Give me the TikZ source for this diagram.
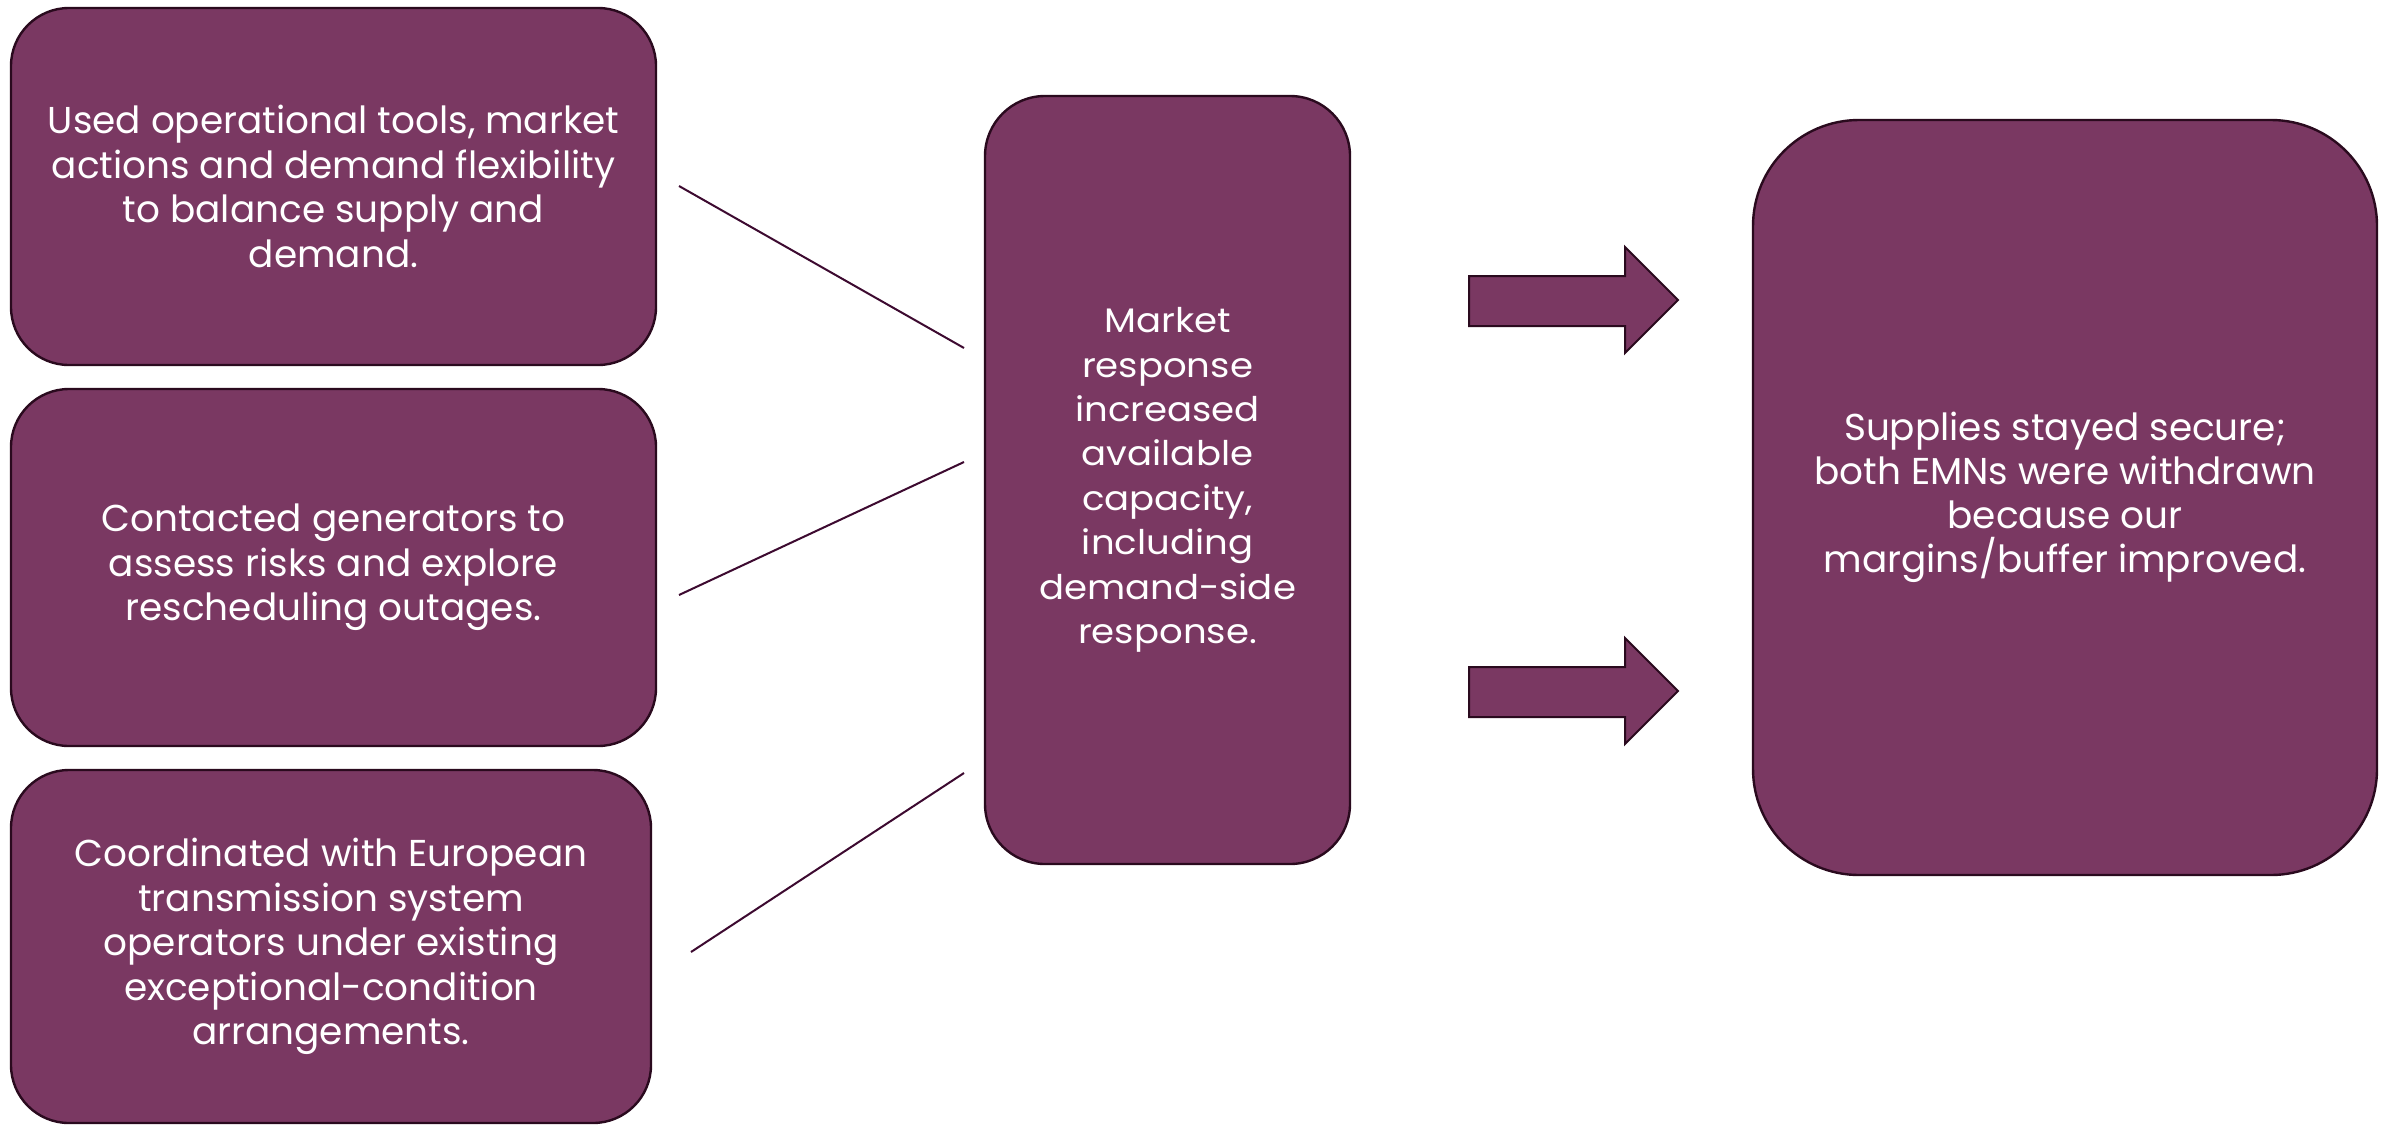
\documentclass[tikz,border=0pt]{standalone}
\usepackage{fontspec}
\setmainfont{Poppins}
\newfontfamily\widefont[FakeStretch=1.09]{Poppins}
\definecolor{boxfill}{HTML}{7A3862}
\definecolor{boxline}{HTML}{2A0A1E}
\definecolor{connline}{HTML}{3D0A30}
\begin{document}
\begin{tikzpicture}[x=0.5pt,y=-0.5pt,
  box/.style={draw=boxline,line width=1.2pt,fill=boxfill,rounded corners=29pt,text=white,align=center,inner sep=0pt},
  txt/.style={font=\fontsize{18.7}{22.3}\selectfont},
  conn/.style={draw=connline,line width=1pt},
  blockarrow/.style={draw=boxline,line width=1pt,fill=boxfill}]
\useasboundingbox (0,0) rectangle (2392,1125);
\fill[white] (0,0) rectangle (2392,1125);
\node[box,txt,minimum width=322.5pt,minimum height=178.5pt] (b1) at (333.5,186.5)
  {Used operational tools, market\\actions and demand flexibility\\to balance supply and\\demand.};
\node[box,txt,minimum width=322.5pt,minimum height=178.5pt] (b2) at (333.5,567.5)
  {Contacted generators to\\assess risks and explore\\rescheduling outages.};
\node[box,txt,minimum width=320pt,minimum height=176.5pt] (b3) at (331,946.5)
  {Coordinated with European\\transmission system\\operators under existing\\exceptional-condition\\arrangements.};
\node[box,minimum width=182.5pt,minimum height=384pt,rounded corners=30pt,font=\widefont\fontsize{17}{22.2}\selectfont] (mid) at (1167.5,480)
  {Market\\response\\increased\\available\\capacity,\\including\\demand-side\\response.};
\node[box,txt,minimum width=312pt,minimum height=377.5pt,rounded corners=53pt,font=\fontsize{18.7}{22.1}\selectfont] (res) at (2065,497.5)
  {Supplies stayed secure;\\both EMNs were withdrawn\\because our\\margins/buffer improved.};
% connectors
\coordinate (l1a) at (679,186);
\coordinate (l1b) at (964,348);
\coordinate (l2a) at (679,595);
\coordinate (l2b) at (964,462);
\coordinate (l3a) at (691,952);
\coordinate (l3b) at (964,773);
\draw[conn] (l1a) -- (l1b);
\draw[conn] (l2a) -- (l2b);
\draw[conn] (l3a) -- (l3b);
% block arrows
\draw[blockarrow] (1469,276) -- (1625,276) -- (1625,247) -- (1678,300) -- (1625,353) -- (1625,326) -- (1469,326) -- cycle;
\draw[blockarrow] (1469,667) -- (1625,667) -- (1625,638) -- (1678,691) -- (1625,744) -- (1625,717) -- (1469,717) -- cycle;
\end{tikzpicture}
\end{document}
